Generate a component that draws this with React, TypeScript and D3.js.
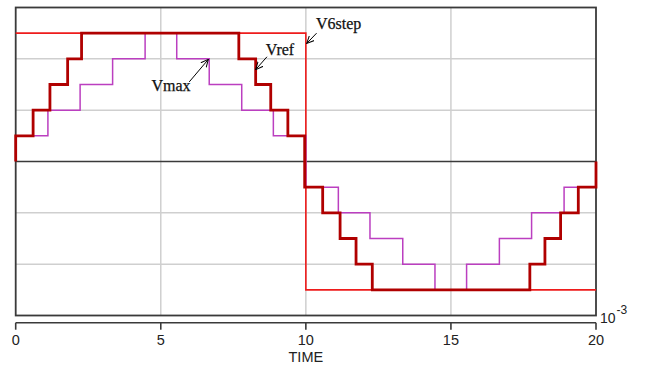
import React from 'react'
import * as d3 from 'd3'

// step signals (time in ms, amplitude in grid units)
const vstepTimes = [0, 10, 20]
const vstepValues = [2.5, -2.5, -2.5]

const vmaxTimes = [0, 1.11, 2.22, 3.34, 4.46, 5.55, 6.67, 7.79, 8.88, 10, 11.12, 12.21, 13.34, 14.45, 15.54, 16.67, 17.78, 18.9, 20]
const vmaxValues = [0.5, 1, 1.5, 2, 2.5, 2, 1.5, 1, 0.5, -0.5, -1, -1.5, -2, -2.5, -2, -1.5, -1, -0.5, -0.5]

const vrefTimes = [0, 0, 0.6, 1.18, 1.79, 2.27, 7.69, 8.27, 8.79, 9.38, 9.96, 10.58, 11.18, 11.73, 12.29, 17.72, 18.24, 18.78, 19.39, 20]
const vrefValues = [0, 0.5, 1, 1.5, 2, 2.5, 2, 1.5, 1, 0.5, -0.5, -1, -1.5, -2, -2.5, -2, -1.5, -1, -0.5, 0]

const xTicks = [0, 5, 10, 15, 20]
const yGrid = [-2, -1, 1, 2]

// label text, anchor and arrow (from -> to) in data units
const notes = [
  {text: 'Vmax', x: 4.68, y: 1.37, anchor: 'start', from: [5.98, 1.55], to: [6.64, 1.99]},
  {text: 'Vref', x: 8.62, y: 2.07, anchor: 'start', from: [8.66, 2.04], to: [8.27, 1.79]},
  {text: 'V6step', x: 10.35, y: 2.58, anchor: 'start', from: [10.37, 2.50], to: [10.03, 2.30]},
]

const App = () => {
  const width = 653
  const height = 365
  const x = d3.scaleLinear().domain([0, 20]).range([15.7, 596])
  const y = d3.scaleLinear().domain([-3, 3]).range([315.5, 7.5])

  const stepLine = (ts: number[], vs: number[]) =>
    d3
      .line<number>()
      .x((d, i) => x(ts[i]))
      .y(d => y(d))
      .curve(d3.curveStepAfter)(vs) as string

  const axisY = 322.7

  return (
    <svg
      width={width}
      height={height}
      style={{position: 'fixed', left: 0, top: 0, background: '#fff'}}
    >
      <defs>
        <marker id="arr" viewBox="0 0 8 8" refX="7.5" refY="4" markerWidth="8" markerHeight="8" orient="auto" markerUnits="userSpaceOnUse">
          <path d="M0,0.5 L7.5,4 L0,7.5" fill="none" stroke="#000" strokeWidth={1} />
        </marker>
      </defs>

      {/* grid */}
      {yGrid.map(g => (
        <line key={'h' + g} x1={x(0)} x2={x(20)} y1={y(g)} y2={y(g)} stroke="#cfcfcf" strokeWidth={1.5} />
      ))}
      {[5, 10, 15].map(t => (
        <line key={'v' + t} x1={x(t)} x2={x(t)} y1={y(3)} y2={y(-3)} stroke="#cfcfcf" strokeWidth={1.5} />
      ))}
      <line x1={x(0)} x2={x(20)} y1={y(0)} y2={y(0)} stroke="#3a3a3a" strokeWidth={1.6} />
      <rect x={x(0)} y={y(3)} width={x(20) - x(0)} height={y(-3) - y(3)} fill="none" stroke="#3a3a3a" strokeWidth={1.8} />

      {/* series */}
      <path d={stepLine(vstepTimes, vstepValues)} fill="none" stroke="#ee1c1c" strokeWidth={1.6} />
      <path d={stepLine(vmaxTimes, vmaxValues)} fill="none" stroke="#bb3fc0" strokeWidth={1.5} />
      <path d={stepLine(vrefTimes, vrefValues)} fill="none" stroke="#b00000" strokeWidth={2.8} strokeLinejoin="miter" />

      {/* annotations */}
      {notes.map(n => (
        <g key={n.text}>
          <text x={x(n.x)} y={y(n.y)} textAnchor={n.anchor} fontFamily="'Liberation Serif', serif" fontSize={16} fill="#111" stroke="#111" strokeWidth={0.25}>
            {n.text}
          </text>
          <line x1={x(n.from[0])} y1={y(n.from[1])} x2={x(n.to[0])} y2={y(n.to[1])} stroke="#000" strokeWidth={1} markerEnd="url(#arr)" />
        </g>
      ))}

      {/* time axis */}
      <line x1={x(0)} x2={x(20)} y1={axisY} y2={axisY} stroke="#3a3a3a" strokeWidth={1.6} />
      {xTicks.map(t => (
        <g key={t} transform={`translate(${x(t)},0)`}>
          <line y1={axisY} y2={axisY + 7} stroke="#3a3a3a" strokeWidth={1.6} />
          <text y={345} textAnchor="middle" fontFamily="'Liberation Sans', Arial, sans-serif" fontSize={14.5} fill="#222">
            {t}
          </text>
        </g>
      ))}
      <text x={x(10)} y={361.5} textAnchor="middle" fontFamily="'Liberation Sans', Arial, sans-serif" fontSize={14.5} fill="#222">
        TIME
      </text>
      <text x={600} y={323} fontFamily="'Liberation Sans', Arial, sans-serif" fontSize={14} fill="#222">
        10
        <tspan dx={1} dy={-9} fontSize={12}>-3</tspan>
      </text>
    </svg>
  )
}

export default App
